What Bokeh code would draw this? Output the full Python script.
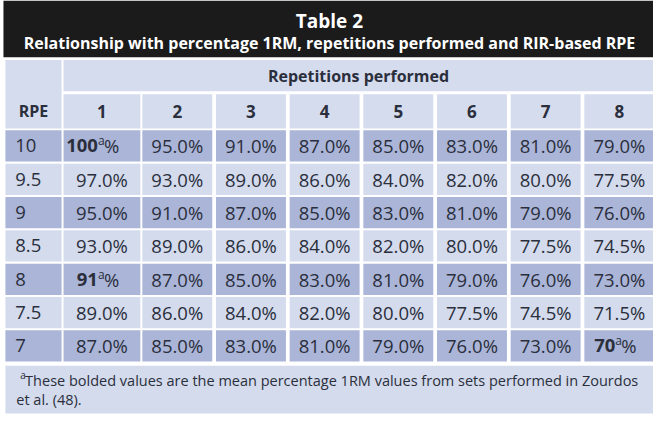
from bokeh.plotting import figure
from bokeh.models import ColumnDataSource, Range1d
from bokeh.core.properties import value
from bokeh.embed import file_html
from bokeh.resources import INLINE

# ---------------- data ----------------
TITLE = "Table 2"
SUBTITLE = "Relationship with percentage 1RM, repetitions performed and RIR-based RPE"
GROUP_LABEL = "Repetitions performed"
RPE_LABEL = "RPE"
reps = ["1", "2", "3", "4", "5", "6", "7", "8"]
rpe = ["10", "9.5", "9", "8.5", "8", "7.5", "7"]
row_10 = [100.0, 95.0, 91.0, 87.0, 85.0, 83.0, 81.0, 79.0]
row_9_5 = [97.0, 93.0, 89.0, 86.0, 84.0, 82.0, 80.0, 77.5]
row_9 = [95.0, 91.0, 87.0, 85.0, 83.0, 81.0, 79.0, 76.0]
row_8_5 = [93.0, 89.0, 86.0, 84.0, 82.0, 80.0, 77.5, 74.5]
row_8 = [91.0, 87.0, 85.0, 83.0, 81.0, 79.0, 76.0, 73.0]
row_7_5 = [89.0, 86.0, 84.0, 82.0, 80.0, 77.5, 74.5, 71.5]
row_7 = [87.0, 85.0, 83.0, 81.0, 79.0, 76.0, 73.0, 70.0]
pct_rows = [row_10, row_9_5, row_9, row_8_5, row_8, row_7_5, row_7]
bold_cells = [("10", "1"), ("8", "1"), ("7", "8")]
FOOT_MARK = "a"
FOOT_LINE_1 = "These bolded values are the mean percentage 1RM values from sets performed in Zourdos"
FOOT_LINE_2 = "et al. (48)."

# ---------------- style ----------------
FONT = value("Open Sans")
TXT = "#2b2f3c"
BLACK = "#1b1b1b"
DARK = "#aab5d8"
LIGHT = "#d3dbed"
HEAD = "#d5dcee"

# ---------------- layout (page pixel units) ----------------
T_LEFT, T_RIGHT = 5, 663
RPE_R = 62
C1_L, C1_W = 64, 78
C_L0, C_PITCH, C_W = 144, 74.8, 71
ROW_TOP, ROW_PITCH, ROW_H = 133, 34.14, 32
BAND_T, BAND_B = 61, 93
HDR_T, HDR_B = 96, 131
FOOT_T, FOOT_B = 374, 423


def col_span(i):
    if i == 0:
        return C1_L, C1_L + C1_W
    l = C_L0 + (i - 1) * C_PITCH
    return l, l + C_W


p = figure(width=653, height=414, x_range=Range1d(0, 663), y_range=Range1d(424, 0),
           output_backend="svg", toolbar_location=None, min_border=0)
p.axis.visible = False
p.grid.visible = False
p.outline_line_color = None
p.background_fill_color = "white"
p.border_fill_color = "white"

# black title box
p.quad(left=[3], right=[663], top=[0], bottom=[58], fill_color=BLACK, line_color=None)
p.text(x=[334], y=[21], text=[TITLE], text_font=FONT, text_font_style="bold",
       text_font_size="19px", text_color="white", text_align="center", text_baseline="middle")
p.text(x=[334], y=[44], text=[SUBTITLE], text_font=FONT, text_font_style="bold",
       text_font_size="16px", text_color="white", text_align="center", text_baseline="middle")

# header cells
p.quad(left=[T_LEFT], right=[RPE_R], top=[BAND_T], bottom=[HDR_B], fill_color=HEAD, line_color=None)
p.quad(left=[C1_L], right=[T_RIGHT], top=[BAND_T], bottom=[BAND_B], fill_color=HEAD, line_color=None)
p.text(x=[(C1_L + T_RIGHT) / 2], y=[(BAND_T + BAND_B) / 2], text=[GROUP_LABEL], text_font=FONT,
       text_font_style="bold", text_font_size="16px", text_color=TXT,
       text_align="center", text_baseline="middle")
hy = (HDR_T + HDR_B) / 2
p.text(x=[(T_LEFT + RPE_R) / 2], y=[hy], text=[RPE_LABEL], text_font=FONT, text_font_style="bold",
       text_font_size="16px", text_color=TXT, text_align="center", text_baseline="middle")
hl, hr, hx = [], [], []
for i in range(len(reps)):
    l, r = col_span(i)
    hl.append(l); hr.append(r); hx.append((l + r) / 2)
p.quad(left=hl, right=hr, top=[HDR_T] * len(reps), bottom=[HDR_B] * len(reps),
       fill_color=HEAD, line_color=None)
p.text(x=hx, y=[hy] * len(reps), text=reps, text_font=FONT, text_font_style="bold",
       text_font_size="17px", text_color=TXT, text_align="center", text_baseline="middle")

# body
cells = dict(l=[], r=[], t=[], b=[], c=[])
norm = dict(x=[], y=[], t=[])
bold = dict(x=[], y=[], t=[])
lab = dict(x=[], y=[], t=[])
for ri, rname in enumerate(rpe):
    top = ROW_TOP + ri * ROW_PITCH
    bot = top + ROW_H
    yc = (top + bot) / 2
    color = DARK if ri % 2 == 0 else LIGHT
    cells["l"].append(T_LEFT); cells["r"].append(RPE_R); cells["t"].append(top)
    cells["b"].append(bot); cells["c"].append(color)
    lab["x"].append(15); lab["y"].append(yc); lab["t"].append(rname)
    for ci, rep in enumerate(reps):
        l, r = col_span(ci)
        cells["l"].append(l); cells["r"].append(r); cells["t"].append(top)
        cells["b"].append(bot); cells["c"].append(color)
        v = pct_rows[ri][ci]
        xc = (l + r) / 2
        if (rname, rep) in bold_cells:
            bold["x"].append(xc); bold["y"].append(yc); bold["t"].append(f"{v:.0f}")
        else:
            norm["x"].append(xc); norm["y"].append(yc); norm["t"].append(f"{v:.1f}%")

p.quad(left="l", right="r", top="t", bottom="b", fill_color="c", line_color=None,
       source=ColumnDataSource(cells))
p.text(x="x", y="y", text="t", source=ColumnDataSource(norm), text_font=FONT,
       text_font_size="18.5px", text_color=TXT, text_align="center", text_baseline="middle")
p.text(x="x", y="y", text="t", source=ColumnDataSource(lab), text_font=FONT,
       text_font_size="18.5px", text_color=TXT, text_align="left", text_baseline="middle")
bsrc = ColumnDataSource(bold)
p.text(x="x", y="y", text="t", source=bsrc, text_font=FONT, text_font_style="bold",
       text_font_size="18.5px", text_color=TXT, text_align="right", text_baseline="middle",
       x_offset=-4)
p.text(x="x", y="y", text=value(FOOT_MARK), source=bsrc, text_font=FONT,
       text_font_size="12px", text_color=TXT, text_align="left", text_baseline="middle",
       x_offset=-4, y_offset=-5)
p.text(x="x", y="y", text=value("%"), source=bsrc, text_font=FONT,
       text_font_size="18.5px", text_color=TXT, text_align="left", text_baseline="middle",
       x_offset=2)

# footnote
p.quad(left=[T_LEFT], right=[T_RIGHT], top=[FOOT_T], bottom=[FOOT_B], fill_color=LIGHT, line_color=None)
p.text(x=[20], y=[389], text=[FOOT_MARK], text_font=FONT, text_font_size="10px",
       text_color=TXT, text_align="left", text_baseline="middle", y_offset=-5)
p.text(x=[25], y=[389], text=[FOOT_LINE_1], text_font=FONT, text_font_size="14.5px",
       text_color=TXT, text_align="left", text_baseline="middle")
p.text(x=[16], y=[409], text=[FOOT_LINE_2], text_font=FONT, text_font_size="14.5px",
       text_color=TXT, text_align="left", text_baseline="middle")

open("out.html", "w").write(file_html(p, INLINE))
